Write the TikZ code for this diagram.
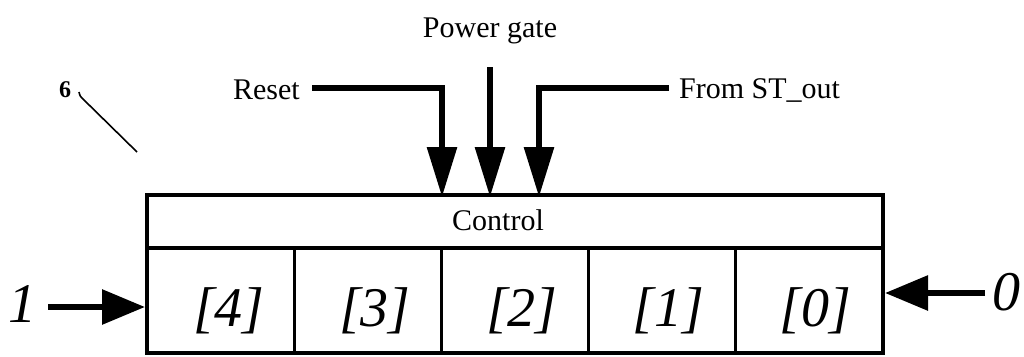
\documentclass[tikz,border=0pt]{standalone}
\usepackage{fontspec}
\setmainfont{Liberation Serif}
\usetikzlibrary{arrows.meta}
\begin{document}
\begin{tikzpicture}[x=1pt,y=-1pt,
  ctrlbox/.style={draw,line width=4pt,minimum width=736pt,minimum height=53pt,inner sep=0pt,outer sep=0pt},
  cell/.style={draw,line width=3pt,minimum width=147.2pt,minimum height=105pt,inner sep=0pt,outer sep=0pt},
  celltxt/.style={inner sep=0pt,anchor=base,font=\fontsize{56}{56}\selectfont\itshape},
  lbl/.style={inner sep=0pt,anchor=base,font=\fontsize{30}{36}\selectfont},
  varr/.style={line width=6pt,-{Triangle[width=29pt,length=50pt]}},
  harr/.style={line width=6pt,-{Triangle[width=34pt,length=43pt]}}]
\useasboundingbox (0,0) rectangle (1024,356);
% register box
\node[ctrlbox] (ctrl) at (515,221.5) {};
\node[cell] (c4) at (220.6,300.5) {};
\node[cell] (c3) at (367.8,300.5) {};
\node[cell] (c2) at (515.0,300.5) {};
\node[cell] (c1) at (662.2,300.5) {};
\node[cell] (c0) at (809.4,300.5) {};
\draw[line width=4.5pt] (ctrl.north west) rectangle (c0.south east);
\node[lbl] (ctrltxt) at (498,230) {Control};
\node[celltxt] (t4) at (229,326) {[4]};
\node[celltxt] (t3) at (375,326) {[3]};
\node[celltxt] (t2) at (522,326) {[2]};
\node[celltxt] (t1) at (668,326) {[1]};
\node[celltxt] (t0) at (815,326) {[0]};
% top inputs
\node[lbl] (pg) at (490,37) {Power gate};
\node[lbl,anchor=base east] (reset) at (300,99) {Reset};
\node[lbl,anchor=base west] (st) at (679,98) {From ST\_out};
\coordinate (rbend) at (442,88);
\coordinate (sbend) at (539,88);
\coordinate (pgs) at (490,67);
\coordinate (rs) at (312,88);
\coordinate (ss) at (669,88);
\draw[varr] (rs) -- (rbend) -- ([yshift=-2pt]rbend |- ctrl.north);
\draw[varr] (pgs) -- ([yshift=-2pt]pgs |- ctrl.north);
\draw[varr] (ss) -- (sbend) -- ([yshift=-2pt]sbend |- ctrl.north);
% side inputs
\node[celltxt] (one) at (23,322) {1};
\node[celltxt] (zero) at (1006,310) {0};
\coordinate (ls) at (48,307);
\coordinate (rsd) at (985,293);
\draw[harr] (ls) -- ([xshift=-2pt]ls -| c4.west);
\draw[harr] (rsd) -- ([xshift=2pt]rsd -| c0.east);
% reference numeral
\node[inner sep=0pt,anchor=base,font=\fontsize{24}{24}\selectfont\bfseries] (six) at (65,97) {6};
\coordinate (leadend) at (137,152);
\draw[line width=1.6pt] (79,92) .. controls (80,96) .. (83,99) -- (leadend);
\end{tikzpicture}
\end{document}
